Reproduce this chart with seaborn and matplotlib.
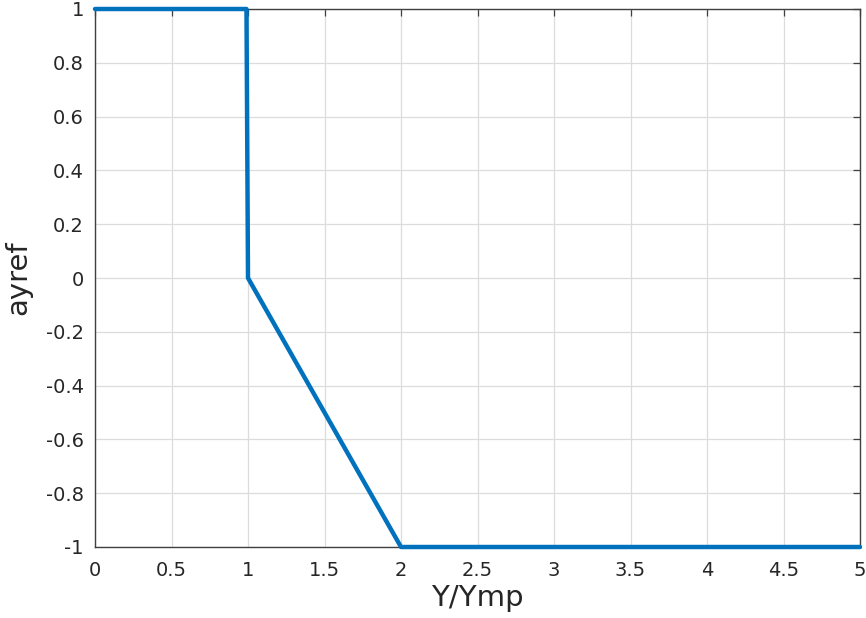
import matplotlib
matplotlib.use('Agg')
import matplotlib.pyplot as plt
import seaborn as sns
import pandas as pd

# Dados da curva
y_ymp = [0, 0.99, 1.0, 2.0, 5.0]
ayref = [1, 1, 0, -1, -1]
x_ticks = [0, 0.5, 1, 1.5, 2, 2.5, 3, 3.5, 4, 4.5, 5]
y_ticks = [-1, -0.8, -0.6, -0.4, -0.2, 0, 0.2, 0.4, 0.6, 0.8, 1]

df = pd.DataFrame({'Y/Ymp': y_ymp, 'ayref': ayref})

sns.set_style('white')
plt.rcParams['font.family'] = ['DejaVu Sans']

fig = plt.figure(figsize=(8.66, 6.18), dpi=100)
ax = fig.add_axes([95/866, 71/618, 765/866, 538/618])

sns.lineplot(x='Y/Ymp', y='ayref', data=df, sort=False, color='#0072BD',
             linewidth=3.2, ax=ax, zorder=3, clip_on=False)

ax.set_xlim(0, 5)
ax.set_ylim(-1, 1)
ax.set_xticks(x_ticks)
ax.set_xticklabels([f'{v:g}' for v in x_ticks])
ax.set_yticks(y_ticks)
ax.set_yticklabels([f'{v:g}' for v in y_ticks])

ax.grid(True, color='#dcdcdc', linewidth=0.9)
ax.tick_params(direction='in', length=5, width=0.9, colors='#404040',
               labelsize=14, labelcolor='#262626', top=True, right=True)
ax.tick_params(axis='x', pad=10)
ax.tick_params(axis='y', pad=8)
for s in ax.spines.values():
    s.set_color('#404040')
    s.set_linewidth(1.0)

ax.set_xlabel('Y/Ymp', fontsize=21, color='#262626', labelpad=3)
ax.set_ylabel('ayref', fontsize=21, color='#262626', labelpad=10)

plt.savefig('out.png', dpi=100)
